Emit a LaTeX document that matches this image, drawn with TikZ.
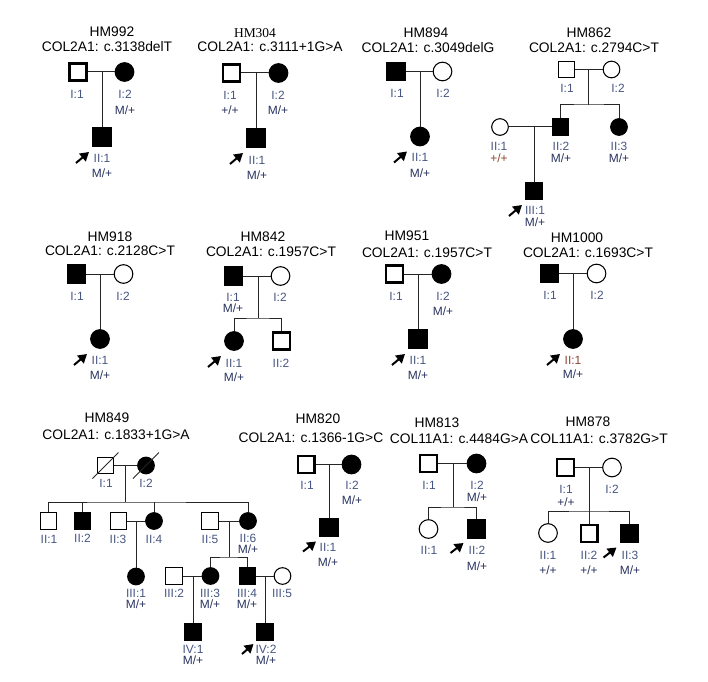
\documentclass[tikz,border=0pt]{standalone}
\usepackage{xcolor}
\usepackage{fontspec}
\setmainfont{Liberation Sans}
\newfontfamily\hmserif{Liberation Serif}
\usetikzlibrary{arrows.meta, calc}

\definecolor{idcol}{RGB}{70,85,130}
\definecolor{gtcol}{RGB}{40,50,95}
\definecolor{brcol}{RGB}{140,70,45}

\begin{document}
\begin{tikzpicture}[x=0.03cm, y=-0.03cm,
    male/.style={draw, rectangle, minimum size=5.4mm, inner sep=0pt, line width=0.9pt},
    female/.style={draw, circle, minimum size=5.6mm, inner sep=0pt, line width=0.9pt},
    aff/.style={fill=black},
    heavy/.style={line width=2pt, minimum size=5.0mm},
    small/.style={minimum size=5.0mm},
    idlab/.style={font=\fontsize{10.2}{12}\selectfont, text=idcol, inner sep=0pt},
    gtlab/.style={font=\fontsize{10.2}{12}\selectfont, text=gtcol, inner sep=0pt},
    brlab/.style={font=\fontsize{10.2}{12}\selectfont, text=brcol, inner sep=0pt},
    hmtitle/.style={font=\fontsize{11.8}{14}\selectfont, inner sep=0pt},
    rel/.style={draw=black!85, line width=0.85pt},
    probarrow/.style={-{Triangle[length=2.6mm, width=3mm]}, line width=1.7pt}]
  \useasboundingbox (0,0) rectangle (708,682);

  % HM992
  \node[hmtitle] (hm992t) at (112,32) {HM992};
  \node[hmtitle] (hm992c) at (107,47) {COL2A1: c.3138delT};
  \node[male, heavy] (hm992I1) at (78,72) {};
  \node[female, aff] (hm992I2) at (124.5,72) {};
  \coordinate (hm992m) at (102,72);
  \node[male, aff] (hm992II1) at (102,137) {};
  \draw[rel] (hm992I1) -- (hm992I2);
  \draw[rel] (hm992m) -- (hm992II1);
  \node[idlab] (hm992I1id) at (77,94) {I:1};
  \node[idlab] (hm992I2id) at (125,94) {I:2};
  \node[gtlab] (hm992I2gt) at (125,110) {M/+};
  \node[idlab] (hm992II1id) at (102,158) {II:1};
  \node[gtlab] (hm992II1gt) at (102,173) {M/+};
  \draw[probarrow] ($(hm992II1)+(-26,26)$) -- ($(hm992II1)+(-13,15)$);

  % HM304
  \node[hmtitle, font=\hmserif\fontsize{11.5}{14}\selectfont] (hm304t) at (255,33) {HM304};
  \node[hmtitle] (hm304c) at (270,47) {COL2A1: c.3111+1G>A};
  \node[male, heavy] (hm304I1) at (231.5,73) {};
  \node[female, aff] (hm304I2) at (278.5,73) {};
  \coordinate (hm304m) at (256,73);
  \node[male, aff] (hm304II1) at (256,138) {};
  \draw[rel] (hm304I1) -- (hm304I2);
  \draw[rel] (hm304m) -- (hm304II1);
  \node[idlab] (hm304I1id) at (230,95) {I:1};
  \node[gtlab] (hm304I1gt) at (230,110) {+/+};
  \node[idlab] (hm304I2id) at (278,95) {I:2};
  \node[gtlab] (hm304I2gt) at (278,110) {M/+};
  \node[idlab] (hm304II1id) at (257,160) {II:1};
  \node[gtlab] (hm304II1gt) at (257,175) {M/+};
  \draw[probarrow] ($(hm304II1)+(-26,26)$) -- ($(hm304II1)+(-13,15)$);

  % HM894
  \node[hmtitle] (hm894t) at (426,33) {HM894};
  \node[hmtitle] (hm894c) at (428,48) {COL2A1: c.3049delG};
  \node[male, aff] (hm894I1) at (396,71.5) {};
  \node[female] (hm894I2) at (442.5,71.5) {};
  \coordinate (hm894m) at (420,71.5);
  \node[female, aff] (hm894II1) at (420,136.5) {};
  \draw[rel] (hm894I1) -- (hm894I2);
  \draw[rel] (hm894m) -- (hm894II1);
  \node[idlab] (hm894I1id) at (397,93) {I:1};
  \node[idlab] (hm894I2id) at (443,93) {I:2};
  \node[idlab] (hm894II1id) at (420,157) {II:1};
  \node[gtlab] (hm894II1gt) at (420,173) {M/+};
  \draw[probarrow] ($(hm894II1)+(-26,26)$) -- ($(hm894II1)+(-13,15)$);

  % HM862
  \node[hmtitle] (hm862t) at (589,33) {HM862};
  \node[hmtitle] (hm862c) at (594,48) {COL2A1: c.2794C>T};
  \node[male, small] (hm862I1) at (566.5,69.5) {};
  \node[female, small] (hm862I2) at (611.5,69.5) {};
  \coordinate (hm862m) at (588,69.5);
  \coordinate (hm862s) at (588,105);
  \node[female, small] (hm862II1) at (500,127) {};
  \node[male, small, aff] (hm862II2) at (560.5,127) {};
  \node[female, small, aff] (hm862II3) at (619,127) {};
  \coordinate (hm862m2) at (534,127);
  \node[male, small, aff] (hm862III1) at (534,191) {};
  \draw[rel] (hm862I1) -- (hm862I2);
  \draw[rel] (hm862m) -- (hm862s);
  \draw[rel] (hm862II2.north) |- (hm862s) -| (hm862II3.north);
  \draw[rel] (hm862II1) -- (hm862II2);
  \draw[rel] (hm862m2) -- (hm862III1);
  \node[idlab] (hm862I1id) at (567,88) {I:1};
  \node[idlab] (hm862I2id) at (618,88) {I:2};
  \node[idlab] (hm862II1id) at (499,146) {II:1};
  \node[brlab] (hm862II1gt) at (499,158) {+/+};
  \node[idlab] (hm862II2id) at (561,146) {II:2};
  \node[gtlab] (hm862II2gt) at (561,158) {M/+};
  \node[idlab] (hm862II3id) at (619,146) {II:3};
  \node[gtlab] (hm862II3gt) at (619,158) {M/+};
  \node[idlab] (hm862III1id) at (535,210) {III:1};
  \node[gtlab] (hm862III1gt) at (535,222) {M/+};
  \draw[probarrow] ($(hm862III1)+(-25,25)$) -- ($(hm862III1)+(-12,14)$);

  % HM918
  \node[hmtitle] (hm918t) at (110,237) {HM918};
  \node[hmtitle] (hm918c) at (110,251) {COL2A1: c.2128C>T};
  \node[male, aff] (hm918I1) at (76.5,274) {};
  \node[female] (hm918I2) at (123.5,274) {};
  \coordinate (hm918m) at (100,274);
  \node[female, aff] (hm918II1) at (100,339) {};
  \draw[rel] (hm918I1) -- (hm918I2);
  \draw[rel] (hm918m) -- (hm918II1);
  \node[idlab] (hm918I1id) at (77,296) {I:1};
  \node[idlab] (hm918I2id) at (123,296) {I:2};
  \node[idlab] (hm918II1id) at (100,360) {II:1};
  \node[gtlab] (hm918II1gt) at (100,375) {M/+};
  \draw[probarrow] ($(hm918II1)+(-26,26)$) -- ($(hm918II1)+(-13,15)$);

  % HM842
  \node[hmtitle] (hm842t) at (263,237) {HM842};
  \node[hmtitle] (hm842c) at (271,252) {COL2A1: c.1957C>T};
  \node[male, aff] (hm842I1) at (233.5,276) {};
  \node[female] (hm842I2) at (280.5,276) {};
  \coordinate (hm842m) at (258,276);
  \coordinate (hm842s) at (258,318);
  \node[female, aff] (hm842II1) at (234,341) {};
  \node[male, heavy] (hm842II2) at (281.5,341) {};
  \draw[rel] (hm842I1) -- (hm842I2);
  \draw[rel] (hm842m) -- (hm842s);
  \draw[rel] (hm842II1.north) |- (hm842s) -| (hm842II2.north);
  \node[idlab] (hm842I1id) at (233,297) {I:1};
  \node[gtlab] (hm842I1gt) at (233,308) {M/+};
  \node[idlab] (hm842I2id) at (280,297) {I:2};
  \node[idlab] (hm842II1id) at (234,363) {II:1};
  \node[gtlab] (hm842II1gt) at (234,377) {M/+};
  \node[idlab] (hm842II2id) at (281,363) {II:2};
  \draw[probarrow] ($(hm842II1)+(-26,26)$) -- ($(hm842II1)+(-13,15)$);

  % HM951
  \node[hmtitle] (hm951t) at (407,236) {HM951};
  \node[hmtitle] (hm951c) at (427,253) {COL2A1: c.1957C>T};
  \node[male, heavy] (hm951I1) at (394.5,274) {};
  \node[female, aff] (hm951I2) at (441.5,274) {};
  \coordinate (hm951m) at (418,274);
  \node[male, aff] (hm951II1) at (418,339) {};
  \draw[rel] (hm951I1) -- (hm951I2);
  \draw[rel] (hm951m) -- (hm951II1);
  \node[idlab] (hm951I1id) at (396,296) {I:1};
  \node[idlab] (hm951I2id) at (443,296) {I:2};
  \node[gtlab] (hm951I2gt) at (443,311) {M/+};
  \node[idlab] (hm951II1id) at (418,360) {II:1};
  \node[gtlab] (hm951II1gt) at (418,375) {M/+};
  \draw[probarrow] ($(hm951II1)+(-26,26)$) -- ($(hm951II1)+(-13,15)$);

  % HM1000
  \node[hmtitle] (hm1000t) at (577,238) {HM1000};
  \node[hmtitle] (hm1000c) at (588,253) {COL2A1: c.1693C>T};
  \node[male, aff] (hm1000I1) at (549.5,273.5) {};
  \node[female] (hm1000I2) at (596.5,273.5) {};
  \coordinate (hm1000m) at (573,273.5);
  \node[female, aff] (hm1000II1) at (573,339) {};
  \draw[rel] (hm1000I1) -- (hm1000I2);
  \draw[rel] (hm1000m) -- (hm1000II1);
  \node[idlab] (hm1000I1id) at (550,295) {I:1};
  \node[idlab] (hm1000I2id) at (597,295) {I:2};
  \node[brlab] (hm1000II1id) at (573,360) {II:1};
  \node[gtlab] (hm1000II1gt) at (573,374) {M/+};
  \draw[probarrow] ($(hm1000II1)+(-26,26)$) -- ($(hm1000II1)+(-13,15)$);

  % HM849
  \node[hmtitle] (hm849t) at (107,418) {HM849};
  \node[hmtitle] (hm849c) at (116,435) {COL2A1: c.1833+1G>A};
  \node[male, small] (hm849I1) at (105.5,465.5) {};
  \node[female, small, aff] (hm849I2) at (146,465.5) {};
  \coordinate (hm849m) at (125,465.5);
  \coordinate (hm849s) at (125,502);
  \node[male, small] (hm849II1) at (48.5,521) {};
  \node[male, small, aff] (hm849II2) at (82.5,521) {};
  \node[male, small] (hm849II3) at (118.5,521) {};
  \node[female, small, aff] (hm849II4) at (154,521) {};
  \node[male, small] (hm849II5) at (210,521) {};
  \node[female, small, aff] (hm849II6) at (248,521) {};
  \coordinate (hm849m3) at (136,521);
  \coordinate (hm849m4) at (229,521);
  \coordinate (hm849s4) at (229,557);
  \node[female, small, aff] (hm849III1) at (136,576.5) {};
  \node[male, small] (hm849III2) at (174,576) {};
  \node[female, small, aff] (hm849III3) at (210.5,576) {};
  \node[male, small, aff] (hm849III4) at (247.5,576) {};
  \node[female, small] (hm849III5) at (282.5,576) {};
  \coordinate (hm849m5) at (193,576);
  \coordinate (hm849m6) at (265,576);
  \node[male, small, aff] (hm849IV1) at (193,632) {};
  \node[male, small, aff] (hm849IV2) at (265,632) {};
  \draw[rel] (hm849I1) -- (hm849I2);
  \draw[rel] ($(hm849I1)+(-13,13)$) -- ($(hm849I1)+(13,-13)$);
  \draw[rel] ($(hm849I2)+(-13,13)$) -- ($(hm849I2)+(13,-13)$);
  \draw[rel] (hm849m) -- (hm849s);
  \draw[rel] (hm849II1.north) |- (hm849s) -| (hm849II6.north);
  \draw[rel] (hm849II2.north) -- (hm849II2.north |- hm849s);
  \draw[rel] (hm849II4.north) -- (hm849II4.north |- hm849s);
  \draw[rel] (hm849II3) -- (hm849II4);
  \draw[rel] (hm849m3) -- (hm849III1);
  \draw[rel] (hm849II5) -- (hm849II6);
  \draw[rel] (hm849m4) -- (hm849s4);
  \draw[rel] (hm849III3.north) |- (hm849s4) -| (hm849III4.north);
  \draw[rel] (hm849III2) -- (hm849III3);
  \draw[rel] (hm849m5) -- (hm849IV1);
  \draw[rel] (hm849III4) -- (hm849III5);
  \draw[rel] (hm849m6) -- (hm849IV2);
  \node[idlab] (hm849I1id) at (106,483) {I:1};
  \node[idlab] (hm849I2id) at (146,483) {I:2};
  \node[idlab] (hm849II1id) at (49,539) {II:1};
  \node[idlab] (hm849II2id) at (82.5,538) {II:2};
  \node[idlab] (hm849II3id) at (118,539) {II:3};
  \node[idlab] (hm849II4id) at (154,539) {II:4};
  \node[idlab] (hm849II5id) at (210,539) {II:5};
  \node[idlab] (hm849II6id) at (248,538) {II:6};
  \node[gtlab] (hm849II6gt) at (248,549) {M/+};
  \node[idlab] (hm849III1id) at (136,593) {III:1};
  \node[gtlab] (hm849III1gt) at (136,604) {M/+};
  \node[idlab] (hm849III2id) at (174,593) {III:2};
  \node[idlab] (hm849III3id) at (210,593) {III:3};
  \node[gtlab] (hm849III3gt) at (210,604) {M/+};
  \node[idlab] (hm849III4id) at (247,593) {III:4};
  \node[gtlab] (hm849III4gt) at (247,604) {M/+};
  \node[idlab] (hm849III5id) at (282,593) {III:5};
  \node[idlab] (hm849IV1id) at (193,649) {IV:1};
  \node[gtlab] (hm849IV1gt) at (193,660) {M/+};
  \node[idlab] (hm849IV2id) at (266,649) {IV:2};
  \node[gtlab] (hm849IV2gt) at (266,660) {M/+};
  \draw[probarrow] ($(hm849IV2)+(-23,22)$) -- ($(hm849IV2)+(-11.5,12)$);

  % HM820
  \node[hmtitle] (hm820t) at (318,419) {HM820};
  \node[hmtitle] (hm820c) at (311,438) {COL2A1: c.1366-1G>C};
  \node[male, heavy] (hm820I1) at (306,464.5) {};
  \node[female, aff] (hm820I2) at (351.5,464.5) {};
  \coordinate (hm820m) at (329,464.5);
  \node[male, aff] (hm820II1) at (329,527.5) {};
  \draw[rel] (hm820I1) -- (hm820I2);
  \draw[rel] (hm820m) -- (hm820II1);
  \node[idlab] (hm820I1id) at (307,485) {I:1};
  \node[idlab] (hm820I2id) at (352,485) {I:2};
  \node[gtlab] (hm820I2gt) at (352,500) {M/+};
  \node[idlab] (hm820II1id) at (328,547) {II:1};
  \node[gtlab] (hm820II1gt) at (328,562) {M/+};
  \draw[probarrow] ($(hm820II1)+(-26,24)$) -- ($(hm820II1)+(-13,14)$);

  % HM813
  \node[hmtitle] (hm813t) at (437,423) {HM813};
  \node[hmtitle] (hm813c) at (459,439) {COL11A1: c.4484G>A};
  \node[male, heavy] (hm813I1) at (428.5,463.5) {};
  \node[female, aff] (hm813I2) at (476.5,463.5) {};
  \coordinate (hm813m) at (453,463.5);
  \coordinate (hm813s) at (453,507);
  \node[female] (hm813II1) at (428.5,529) {};
  \node[male, aff] (hm813II2) at (476.5,529) {};
  \draw[rel] (hm813I1) -- (hm813I2);
  \draw[rel] (hm813m) -- (hm813s);
  \draw[rel] (hm813II1.north) |- (hm813s) -| (hm813II2.north);
  \node[idlab] (hm813I1id) at (429,485) {I:1};
  \node[idlab] (hm813I2id) at (477,485) {I:2};
  \node[gtlab] (hm813I2gt) at (477,497) {M/+};
  \node[idlab] (hm813II1id) at (429,550) {II:1};
  \node[idlab] (hm813II2id) at (477,550) {II:2};
  \node[gtlab] (hm813II2gt) at (477,566) {M/+};
  \draw[probarrow] ($(hm813II2)+(-26,24)$) -- ($(hm813II2)+(-13,14)$);

  % HM878
  \node[hmtitle] (hm878t) at (588,422) {HM878};
  \node[hmtitle] (hm878c) at (599,439) {COL11A1: c.3782G>T};
  \node[male, heavy] (hm878I1) at (565.5,467.5) {};
  \node[female] (hm878I2) at (612,467.5) {};
  \coordinate (hm878m) at (589,467.5);
  \coordinate (hm878s) at (589,511);
  \node[female] (hm878II1) at (548,533) {};
  \node[male, heavy] (hm878II2) at (589,533.5) {};
  \node[male, aff] (hm878II3) at (629.5,533.5) {};
  \draw[rel] (hm878I1) -- (hm878I2);
  \draw[rel] (hm878m) -- (hm878s);
  \draw[rel] (hm878II1.north) |- (hm878s) -| (hm878II3.north);
  \draw[rel] (hm878II2.north) -- (hm878s);
  \node[idlab] (hm878I1id) at (566,489) {I:1};
  \node[gtlab] (hm878I1gt) at (566,502) {+/+};
  \node[idlab] (hm878I2id) at (612,489) {I:2};
  \node[idlab] (hm878II1id) at (548,555) {II:1};
  \node[gtlab] (hm878II1gt) at (548,570) {+/+};
  \node[idlab] (hm878II2id) at (589,555) {II:2};
  \node[gtlab] (hm878II2gt) at (589,570) {+/+};
  \node[idlab] (hm878II3id) at (630,555) {II:3};
  \node[gtlab] (hm878II3gt) at (630,570) {M/+};
  \draw[probarrow] ($(hm878II3)+(-26,24)$) -- ($(hm878II3)+(-13,14)$);
\end{tikzpicture}
\end{document}
